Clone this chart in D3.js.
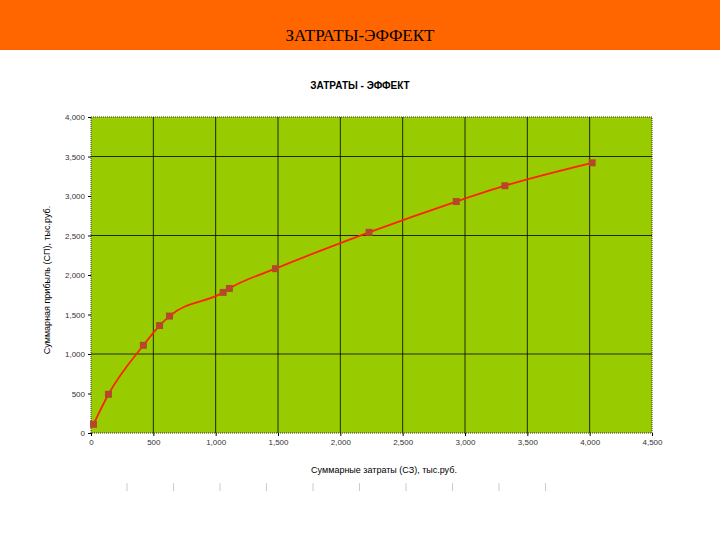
<!DOCTYPE html>
<html><head><meta charset="utf-8">
<script src="https://cdn.jsdelivr.net/npm/d3@7"></script>
<style>body{margin:0;background:#fff}</style></head>
<body><div id="chart"></div>
<script>
// data
const costs   = [20, 140, 420, 550, 630, 1060, 1110, 1480, 2230, 2930, 3320, 4020];
const profits = [110, 490, 1110, 1360, 1480, 1780, 1830, 2080, 2540, 2930, 3130, 3420];
const xTicks = [0, 500, 1000, 1500, 2000, 2500, 3000, 3500, 4000, 4500];
const yTicks = [0, 500, 1000, 1500, 2000, 2500, 3000, 3500, 4000];
const yGrid = [1000, 2500, 3500];

const width = 720, height = 540;
const margin = {top: 117, right: 68, bottom: 107, left: 91};

const svg = d3.select("#chart").append("svg")
    .attr("width", width).attr("height", height);

// header bar
svg.append("rect").attr("x", 0).attr("y", 0).attr("width", width).attr("height", 50).attr("fill", "#ff6600");
svg.append("text").attr("x", 360).attr("y", 41).attr("text-anchor", "middle")
    .attr("font-family", "Liberation Serif").attr("font-size", 17).text("ЗАТРАТЫ-ЭФФЕКТ");

svg.append("text").attr("x", 360).attr("y", 89).attr("text-anchor", "middle")
    .attr("font-family", "Liberation Sans").attr("font-weight", "bold").attr("font-size", 10)
    .text("ЗАТРАТЫ - ЭФФЕКТ");

const x = d3.scaleLinear().domain([0, 4500]).range([margin.left, width - margin.right]);
const y = d3.scaleLinear().domain([0, 4000]).range([height - margin.bottom, margin.top]);

// plot area
svg.append("rect").attr("x", x(0)).attr("y", y(4000))
    .attr("width", x(4500) - x(0)).attr("height", y(0) - y(4000))
    .attr("fill", "#99cc00").attr("stroke", "#333").attr("stroke-dasharray", "1,1");

// grid
svg.append("g").selectAll("line").data(xTicks.slice(1, -1)).join("line")
    .attr("x1", d => x(d)).attr("x2", d => x(d)).attr("y1", y(0)).attr("y2", y(4000))
    .attr("stroke", "#000").attr("stroke-width", 0.8);
svg.append("g").selectAll("line").data(yGrid).join("line")
    .attr("x1", x(0)).attr("x2", x(4500)).attr("y1", d => y(d)).attr("y2", d => y(d))
    .attr("stroke", "#000").attr("stroke-width", 0.8);

// axes
const xAxis = svg.append("g").attr("transform", `translate(0,${y(0)})`)
    .call(d3.axisBottom(x).tickValues(xTicks).tickSize(3).tickSizeOuter(0));
const yAxis = svg.append("g").attr("transform", `translate(${x(0)},0)`)
    .call(d3.axisLeft(y).tickValues(yTicks).tickSize(3).tickSizeOuter(0));
[xAxis, yAxis].forEach(a => {
    a.select(".domain").remove();
    a.selectAll("text").attr("font-family", "Liberation Sans").attr("font-size", 8).attr("fill", "#333");
});

// axis titles
svg.append("text").attr("x", 384).attr("y", 473).attr("text-anchor", "middle")
    .attr("font-family", "Liberation Sans").attr("font-size", 9).text("Суммарные затраты (СЗ), тыс.руб.");
svg.append("text").attr("transform", "translate(50,280) rotate(-90)").attr("text-anchor", "middle")
    .attr("font-family", "Liberation Sans").attr("font-size", 9).text("Суммарная прибыль (СП), тыс.руб.");

// line + markers
const pts = costs.map((c, i) => [c, profits[i]]);
svg.append("path").datum(pts)
    .attr("d", d3.line().x(d => x(d[0])).y(d => y(d[1])).curve(d3.curveMonotoneX))
    .attr("fill", "none").attr("stroke", "#ff2200").attr("stroke-width", 1.8);
svg.append("g").selectAll("rect").data(pts).join("rect")
    .attr("x", d => x(d[0]) - 3.5).attr("y", d => y(d[1]) - 3.5)
    .attr("width", 7).attr("height", 7).attr("fill", "#b5482a");

// faint tick decorations below and right
svg.append("g").selectAll("line").data(d3.range(10)).join("line")
    .attr("x1", d => 127 + d * 46.5).attr("x2", d => 127 + d * 46.5).attr("y1", 483).attr("y2", 491)
    .attr("stroke", "#ccc");
</script></body></html>
